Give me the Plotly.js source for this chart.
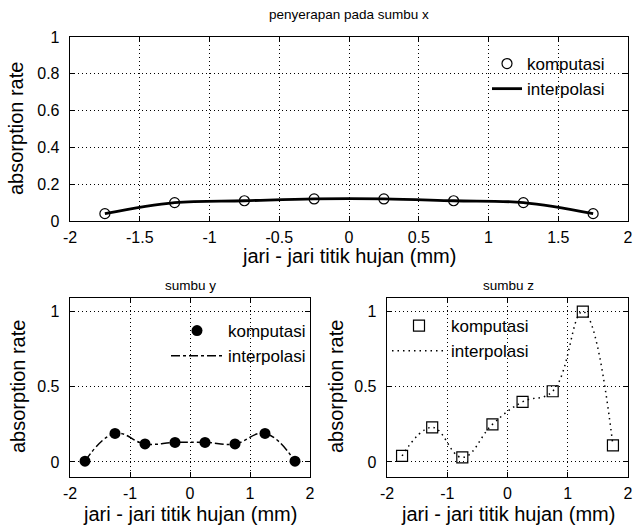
<!DOCTYPE html>
<html>
<head>
<meta charset="utf-8">
<script src="https://cdn.plot.ly/plotly-3.0.1.min.js"></script>
<style>html,body{margin:0;padding:0;background:#fff;}#chart{width:640px;height:526px;}</style>
</head>
<body>
<div id="chart"></div>
<script>
// data
var radius = [-1.75, -1.25, -0.75, -0.25, 0.25, 0.75, 1.25, 1.75];
var absX = [0.04, 0.10, 0.11, 0.12, 0.12, 0.11, 0.10, 0.04];
var absY = [0.005, 0.19, 0.12, 0.13, 0.13, 0.12, 0.19, 0.005];
var absZ = [0.04, 0.23, 0.03, 0.25, 0.40, 0.47, 1.00, 0.11];

var topXTicks = [-2, -1.5, -1, -0.5, 0, 0.5, 1, 1.5, 2];
var topXLabels = ['-2', '-1.5', '-1', '-0.5', '0', '0.5', '1', '1.5', '2'];
var topYTicks = [0, 0.2, 0.4, 0.6, 0.8, 1];
var topYLabels = ['0', '0.2', '0.4', '0.6', '0.8', '1'];
var botXTicks = [-2, -1, 0, 1, 2];
var botXLabels = ['-2', '-1', '0', '1', '2'];
var botYTicks = [0, 0.5, 1];
var botYLabels = ['0', '0.5', '1'];

var titles = ['penyerapan pada sumbu x', 'sumbu y', 'sumbu z'];
var xTitle = 'jari - jari titik hujan (mm)';
var yTitle = 'absorption rate';
var names = ['komputasi', 'interpolasi'];

var FONT = '"Liberation Sans", Arial, sans-serif';
var tickFont = {family: FONT, size: 16, color: '#000'};

var traces = [
  {x: radius, y: absX, xaxis: 'x', yaxis: 'y', mode: 'markers', name: names[0], legend: 'legend',
   marker: {symbol: 'circle-open', size: 10, color: '#000', line: {width: 1.2, color: '#000'}}},
  {x: radius, y: absX, xaxis: 'x', yaxis: 'y', mode: 'lines', name: names[1], legend: 'legend',
   line: {shape: 'spline', smoothing: 1, color: '#000', width: 2.8}},
  {x: radius, y: absY, xaxis: 'x2', yaxis: 'y2', mode: 'markers', name: names[0], legend: 'legend2',
   marker: {symbol: 'circle', size: 11, color: '#000'}},
  {x: radius, y: absY, xaxis: 'x2', yaxis: 'y2', mode: 'lines', name: names[1], legend: 'legend2',
   line: {shape: 'spline', smoothing: 1.2, color: '#000', width: 1.5, dash: 'dashdot'}},
  {x: radius, y: absZ, xaxis: 'x3', yaxis: 'y3', mode: 'markers', name: names[0], legend: 'legend3',
   marker: {symbol: 'square-open', size: 11, color: '#000', line: {width: 1.2, color: '#000'}}},
  {x: radius, y: absZ, xaxis: 'x3', yaxis: 'y3', mode: 'lines', name: names[1], legend: 'legend3',
   line: {shape: 'spline', smoothing: 1.2, color: '#000', width: 1.5, dash: '1.5px,4px'}}
];

function common(tv, tt) {
  return {tickvals: tv, ticktext: tt, tickfont: tickFont,
    showgrid: true, gridcolor: '#000', griddash: '1px,3px', gridwidth: 1,
    showline: true, linecolor: '#000', linewidth: 1.3, mirror: 'ticks',
    ticks: 'inside', ticklen: 5, tickcolor: '#000', zeroline: false, fixedrange: true};
}
function xax(dom, tv, tt, anchor) {
  return Object.assign(common(tv, tt), {domain: dom, range: [-2, 2], anchor: anchor, ticklabelstandoff: 1});
}
function yax(dom, rng, tv, tt, anchor) {
  return Object.assign(common(tv, tt), {domain: dom, range: rng, anchor: anchor, ticklabelstandoff: 6});
}

var W = 640, H = 526;
function px(v) { return v / W; }
function py(v) { return 1 - v / H; }

var legFont = {family: FONT, size: 17, color: '#000'};
var legBase = {xanchor: 'left', yanchor: 'top', bgcolor: 'rgba(0,0,0,0)', borderwidth: 0, font: legFont};
var ann = function (t, x, y, size, angle) {
  return {text: t, x: px(x), y: py(y), xref: 'paper', yref: 'paper', xanchor: 'center', yanchor: 'middle',
    showarrow: false, textangle: angle || 0, font: {family: FONT, size: size, color: '#000'}};
};
var layout = {
  width: W, height: H, margin: {l: 0, r: 0, t: 0, b: 0},
  paper_bgcolor: '#fff', plot_bgcolor: '#fff', showlegend: true,
  xaxis: xax([px(70), px(628)], topXTicks, topXLabels, 'y'),
  yaxis: yax([py(221), py(37)], [0, 1], topYTicks, topYLabels, 'x'),
  xaxis2: xax([px(70), px(310)], botXTicks, botXLabels, 'y2'),
  yaxis2: yax([py(477), py(298)], [-0.1, 1.09], botYTicks, botYLabels, 'x2'),
  xaxis3: xax([px(387), px(628)], botXTicks, botXLabels, 'y3'),
  yaxis3: yax([py(477), py(298)], [-0.1, 1.09], botYTicks, botYLabels, 'x3'),
  legend: Object.assign({}, legBase, {x: px(487), y: py(46), itemwidth: 30}),
  legend2: Object.assign({}, legBase, {x: px(166), y: py(313), itemwidth: 52}),
  legend3: Object.assign({}, legBase, {x: px(387), y: py(308), itemwidth: 54}),
  annotations: [
    ann(titles[0], 349, 15, 13.5),
    ann(titles[1], 190, 285, 13.5),
    ann(titles[2], 508, 285, 13.5),
    ann(xTitle, 349, 256, 20),
    ann(xTitle, 190, 514, 20),
    ann(xTitle, 508, 514, 20),
    ann(yTitle, 16, 129, 20, -90),
    ann(yTitle, 18, 387, 20, -90),
    ann(yTitle, 336, 387, 20, -90)
  ]
};

Plotly.newPlot('chart', traces, layout, {displayModeBar: false, staticPlot: true});
</script>
</body>
</html>
